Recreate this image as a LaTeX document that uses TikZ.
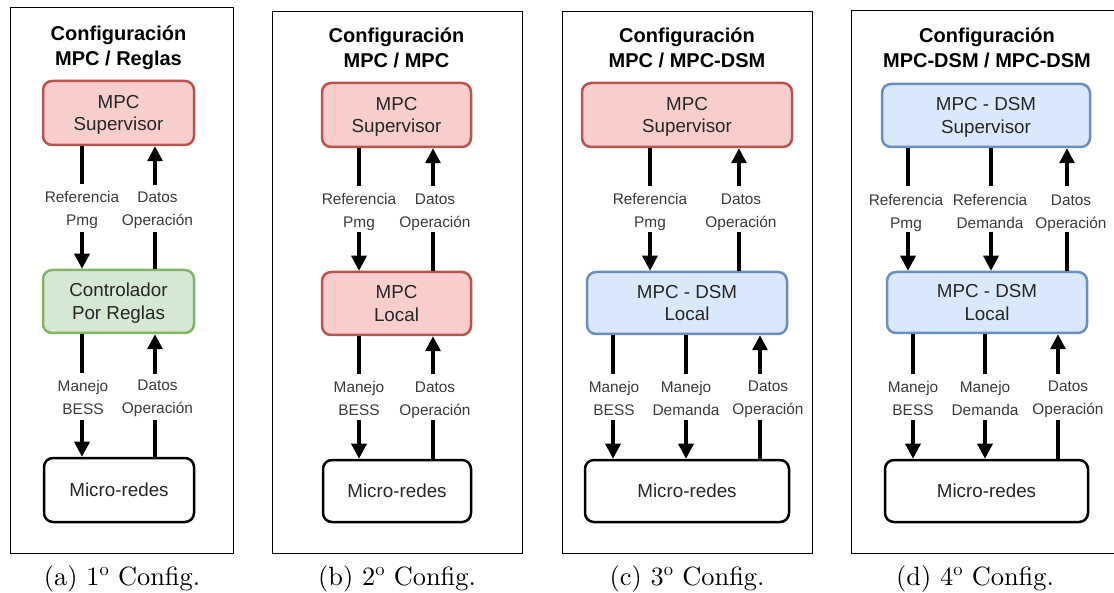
\documentclass[tikz,border=0pt]{standalone}
\usepackage{fontspec}
\usetikzlibrary{arrows.meta}
\newfontfamily\arialfam{Liberation Sans}
\newfontfamily\capfam{lmroman10-regular.otf}
\definecolor{pinkF}{HTML}{F8CECC}
\definecolor{pinkD}{HTML}{B85450}
\definecolor{greenF}{HTML}{D5E8D4}
\definecolor{greenD}{HTML}{82B366}
\definecolor{blueF}{HTML}{DAE8FC}
\definecolor{blueD}{HTML}{6C8EBF}
\definecolor{boxtxt}{HTML}{262626}
\definecolor{lbltxt}{HTML}{3A3A3A}
\newcommand\vs{\rule[-0.2em]{0pt}{1.116em}}
\tikzset{
  panelframe/.style={draw=black, line width=1pt},
  basebox/.style={draw, rounded corners=9pt, line width=2.5pt, inner sep=0pt, align=center,
    text=boxtxt, font=\arialfam\fontsize{18.8}{22.5}\selectfont},
  pbox/.style={basebox, fill=pinkF, draw=pinkD},
  gbox/.style={basebox, fill=greenF, draw=greenD},
  bbox/.style={basebox, fill=blueF, draw=blueD},
  wbox/.style={basebox, fill=white, draw=black},
  lbl/.style={inner sep=0pt, align=center, text=lbltxt, font=\arialfam\fontsize{15.4}{23}\selectfont},
  ttl/.style={inner sep=0pt, align=center, text=black, font=\arialfam\bfseries\fontsize{20}{25}\selectfont},
  captxt/.style={inner sep=0pt, anchor=base, font=\capfam\fontsize{26.4}{30}\selectfont},
  ln/.style={line width=3.3pt},
  arr/.style={ln, -{Triangle[length=15pt,width=15pt]}},
}
\begin{document}
\begin{tikzpicture}[x=1pt,y=-1pt]
\useasboundingbox (0,0) rectangle (1114,593);

% ---------------- Panel (a)
\draw[panelframe] (10,7.5) rectangle (233,553);
\node[ttl] (aT) at (118.5,45.5) {\vs Configuración\\\vs MPC / Reglas};
\node[pbox, minimum width=151pt, minimum height=64pt] (aS) at (118.5,113) {\vs MPC\\\vs Supervisor};
\node[gbox, minimum width=151pt, minimum height=63pt] (aL) at (118.5,301.5) {\vs Controlador\\\vs Por Reglas};
\node[wbox, minimum width=150pt, minimum height=64pt] (aM) at (119,490) {\vs Micro-redes};
\node[lbl] (aU1) at (82,208.5) {\vs Referencia\\\vs Pmg};
\node[lbl] (aU2) at (157.5,208.5) {\vs Datos\\\vs Operación};
\node[lbl] (aD1) at (83,397) {\vs Manejo\\\vs BESS};
\node[lbl] (aD2) at (157.5,397) {\vs Datos\\\vs Operación};
\coordinate (a1t) at (82,184); \coordinate (a1b) at (82,232);
\coordinate (a2t) at (155,185); \coordinate (a2b) at (155,232);
\coordinate (a3t) at (82,373); \coordinate (a3b) at (82,420);
\coordinate (a4t) at (155,374); \coordinate (a4b) at (155,420);
\draw[ln] (aS.south -| a1t) -- (a1t);
\draw[arr] (a1b) -- (aL.north -| a1b);
\draw[arr] (a2t) -- (aS.south -| a2t);
\draw[ln] (aL.north -| a2b) -- (a2b);
\draw[ln] (aL.south -| a3t) -- (a3t);
\draw[arr] (a3b) -- (aM.north -| a3b);
\draw[arr] (a4t) -- (aL.south -| a4t);
\draw[ln] (aM.north -| a4b) -- (a4b);
\node[captxt] (aC) at (122,585) {(a) 1\textsuperscript{o} Config.};

% ---------------- Panel (b)
\draw[panelframe] (272,12) rectangle (522,553);
\node[ttl] (bT) at (396.5,47.5) {\vs Configuración\\\vs MPC / MPC};
\node[pbox, minimum width=149pt, minimum height=64pt] (bS) at (396.5,115) {\vs MPC\\\vs Supervisor};
\node[pbox, minimum width=149pt, minimum height=63pt] (bL) at (396.5,303.5) {\vs MPC\\\vs Local};
\node[wbox, minimum width=148pt, minimum height=62pt] (bM) at (397,491) {\vs Micro-redes};
\node[lbl] (bU1) at (359,211) {\vs Referencia\\\vs Pmg};
\node[lbl] (bU2) at (435,211) {\vs Datos\\\vs Operación};
\node[lbl] (bD1) at (359,398.5) {\vs Manejo\\\vs BESS};
\node[lbl] (bD2) at (435,398.5) {\vs Datos\\\vs Operación};
\coordinate (b1t) at (359,186); \coordinate (b1b) at (359,232);
\coordinate (b2t) at (433,186); \coordinate (b2b) at (433,232);
\coordinate (b3t) at (359,374); \coordinate (b3b) at (359,420);
\coordinate (b4t) at (433,374); \coordinate (b4b) at (433,420);
\draw[ln] (bS.south -| b1t) -- (b1t);
\draw[arr] (b1b) -- (bL.north -| b1b);
\draw[arr] (b2t) -- (bS.south -| b2t);
\draw[ln] (bL.north -| b2b) -- (b2b);
\draw[ln] (bL.south -| b3t) -- (b3t);
\draw[arr] (b3b) -- (bM.north -| b3b);
\draw[arr] (b4t) -- (bL.south -| b4t);
\draw[ln] (bM.north -| b4b) -- (b4b);
\node[captxt] (bC) at (397,585) {(b) 2\textsuperscript{o} Config.};

% ---------------- Panel (c)
\draw[panelframe] (562,12) rectangle (812,553);
\node[ttl] (cT) at (687,47.5) {\vs Configuración\\\vs MPC / MPC-DSM};
\node[pbox, minimum width=210pt, minimum height=64pt] (cS) at (687,115) {\vs MPC\\\vs Supervisor};
\node[bbox, minimum width=200pt, minimum height=62pt] (cL) at (687,303) {\vs MPC - DSM\\\vs Local};
\node[wbox, minimum width=204pt, minimum height=62pt] (cM) at (687,491) {\vs Micro-redes};
\node[lbl] (cU1) at (650,210.5) {\vs Referencia\\\vs Pmg};
\node[lbl] (cU2) at (741,210.5) {\vs Datos\\\vs Operación};
\node[lbl] (cD1) at (614,398) {\vs Manejo\\\vs BESS};
\node[lbl] (cD2) at (686,398) {\vs Manejo\\\vs Demanda};
\node[lbl] (cD3) at (768,398) {\vs Datos\\\vs Operación};
\coordinate (c1t) at (650,186); \coordinate (c1b) at (650,232);
\coordinate (c2t) at (739,186); \coordinate (c2b) at (739,232);
\coordinate (c3t) at (613,374); \coordinate (c3b) at (613,420);
\coordinate (c4t) at (686,374); \coordinate (c4b) at (686,420);
\coordinate (c5t) at (760,374); \coordinate (c5b) at (760,420);
\draw[ln] (cS.south -| c1t) -- (c1t);
\draw[arr] (c1b) -- (cL.north -| c1b);
\draw[arr] (c2t) -- (cS.south -| c2t);
\draw[ln] (cL.north -| c2b) -- (c2b);
\draw[ln] (cL.south -| c3t) -- (c3t);
\draw[arr] (c3b) -- (cM.north -| c3b);
\draw[ln] (cL.south -| c4t) -- (c4t);
\draw[arr] (c4b) -- (cM.north -| c4b);
\draw[arr] (c5t) -- (cL.south -| c5t);
\draw[ln] (cM.north -| c5b) -- (c5b);
\node[captxt] (cC) at (687,585) {(c) 3\textsuperscript{o} Config.};

% ---------------- Panel (d)
\draw[panelframe] (1114,11) -- (851,11) -- (851,553) -- (1114,553);
\node[ttl] (dT) at (987,48) {\vs Configuración\\\vs MPC-DSM / MPC-DSM};
\node[bbox, minimum width=208pt, minimum height=63pt] (dS) at (986,115.5) {\vs MPC - DSM\\\vs Supervisor};
\node[bbox, minimum width=200pt, minimum height=61pt] (dL) at (987,302.5) {\vs MPC - DSM\\\vs Local};
\node[wbox, minimum width=203pt, minimum height=62pt] (dM) at (986.5,491) {\vs Micro-redes};
\node[lbl] (dU1) at (906,211.5) {\vs Referencia\\\vs Pmg};
\node[lbl] (dU2) at (990,211.5) {\vs Referencia\\\vs Demanda};
\node[lbl] (dU3) at (1071,211.5) {\vs Datos\\\vs Operación};
\node[lbl] (dD1) at (913,398) {\vs Manejo\\\vs BESS};
\node[lbl] (dD2) at (985,398) {\vs Manejo\\\vs Demanda};
\node[lbl] (dD3) at (1068,398) {\vs Datos\\\vs Operación};
\coordinate (d1t) at (908,186); \coordinate (d1b) at (908,232);
\coordinate (d2t) at (991,186); \coordinate (d2b) at (991,232);
\coordinate (d3t) at (1067,186); \coordinate (d3b) at (1067,232);
\coordinate (d4t) at (913,374); \coordinate (d4b) at (913,420);
\coordinate (d5t) at (985,374); \coordinate (d5b) at (985,420);
\coordinate (d6t) at (1058,374); \coordinate (d6b) at (1058,420);
\draw[ln] (dS.south -| d1t) -- (d1t);
\draw[arr] (d1b) -- (dL.north -| d1b);
\draw[ln] (dS.south -| d2t) -- (d2t);
\draw[arr] (d2b) -- (dL.north -| d2b);
\draw[arr] (d3t) -- (dS.south -| d3t);
\draw[ln] (dL.north -| d3b) -- (d3b);
\draw[ln] (dL.south -| d4t) -- (d4t);
\draw[arr] (d4b) -- (dM.north -| d4b);
\draw[ln] (dL.south -| d5t) -- (d5t);
\draw[arr] (d5b) -- (dM.north -| d5b);
\draw[arr] (d6t) -- (dL.south -| d6t);
\draw[ln] (dM.north -| d6b) -- (d6b);
\node[captxt] (dC) at (975,585) {(d) 4\textsuperscript{o} Config.};
\end{tikzpicture}
\end{document}
